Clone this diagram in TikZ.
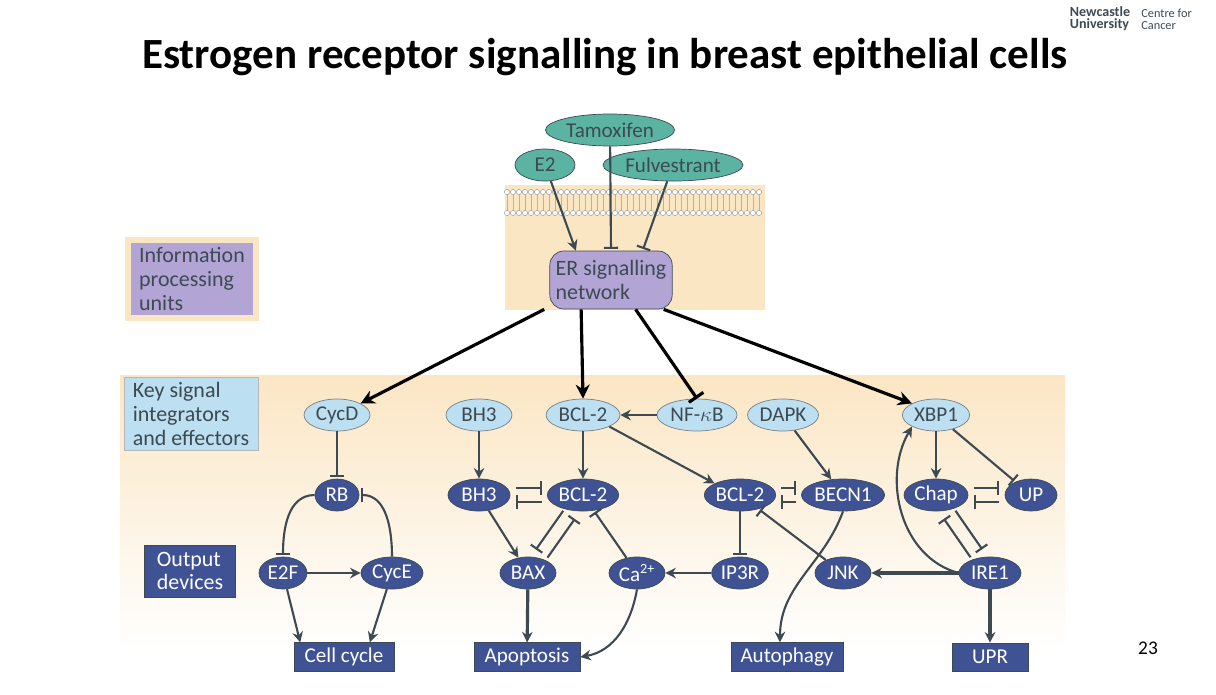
\documentclass[tikz,border=0pt]{standalone}
\usepackage{fontspec}
\setmainfont{Carlito}
\usepackage{tikz}
\usetikzlibrary{arrows.meta,positioning,shapes.geometric}
\definecolor{teal1}{HTML}{5BB3A2}
\definecolor{lav}{HTML}{B3A4D6}
\definecolor{sky}{HTML}{BCDFF1}
\definecolor{navy}{HTML}{3F5293}
\definecolor{beige}{HTML}{FBE6C4}
\definecolor{ink}{HTML}{3E4A52}
\tikzset{
  drug/.style={draw=ink, ellipse, fill=teal1, minimum width=60*0.02cm, minimum height=32*0.02cm, inner sep=1pt, font=\fontsize{12}{14}\selectfont, text=ink},
  integ/.style={draw=ink!70, ellipse, fill=sky, minimum width=66*0.02cm, minimum height=32*0.02cm, inner sep=1pt, font=\fontsize{12}{14}\selectfont, text=ink},
  eff/.style={draw=ink, ellipse, fill=navy, minimum width=62*0.02cm, minimum height=32*0.02cm, inner sep=0.5pt, font=\fontsize{12}{14}\selectfont, text=white},
  outbox/.style={draw=ink, fill=navy, text=white, minimum height=28*0.02cm, inner sep=3pt, font=\fontsize{12}{14}\selectfont},
  act/.style={draw=ink, line width=1.2pt, -{Stealth[length=6pt,width=6pt]}},
  inh/.style={draw=ink, line width=1.2pt, -{Bar[width=8pt]}, shorten >=1pt},
  pair/.style={inh, shorten <=3pt, shorten >=3pt},
  big/.style={draw=black, line width=1.8pt, -{Stealth[length=8pt,width=8pt]}},
  legend/.style={align=left, font=\fontsize{12.5}{13.5}\selectfont, inner sep=3pt, text=ink}
}
\begin{document}
\begin{tikzpicture}[x=0.02cm, y=-0.02cm]
\useasboundingbox (0,0) rectangle (1216,694);
\fill[white] (0,0) rectangle (1216,694);
% backgrounds
\shade[top color=beige, bottom color=white] (120,375) rectangle (1065,650);
\fill[beige] (505,185) rectangle (765,310);
\foreach \x in {507,513,...,763} {
  \draw[gray!60, line width=0.3pt] (\x,194) -- (\x,211);
  \draw[gray!70, fill=white, line width=0.3pt] (\x,192) circle (2.6);
  \draw[gray!70, fill=white, line width=0.3pt] (\x,213) circle (2.6);
}
% title and logo
\node (title) at (605,57) {\fontsize{24.5}{28}\selectfont\bfseries Estrogen receptor signalling in breast epithelial cells};
\node[font=\fontsize{8}{8}\selectfont\bfseries, text=ink, align=left, inner sep=0pt] (logo) at (1100,19) {Newcastle\\[-1pt]University};
\node[font=\fontsize{7}{7}\selectfont, text=ink, align=left, inner sep=0pt, right=6pt of logo] (centre) {Centre for\\Cancer};
\node (page) at (1148,648) {\fontsize{11}{12}\selectfont 23};
% legend
\node[legend, fill=lav, draw=beige, line width=3pt, minimum width=128*0.02cm, minimum height=78*0.02cm] (infobox) at (192,279) {Information\\processing\\units};
\node[legend, fill=sky, draw=ink!40, minimum width=134*0.02cm, minimum height=68*0.02cm] (keybox) at (191,414) {Key signal\\integrators\\and effectors};
\node[legend, fill=navy, text=white, draw=ink, minimum width=91*0.02cm, minimum height=52*0.02cm] (outdev) at (190,571) {Output\\devices};
% drugs and ER
\node[drug] (tam) at (610,130) {Tamoxifen};
\node[drug] (e2) at (545,165) {E2};
\node[drug] (fulv) at (673,165) {Fulvestrant};
\node[draw=ink, fill=lav, rounded corners=8pt, align=left, minimum width=122*0.02cm, minimum height=58*0.02cm, font=\fontsize{12.5}{14}\selectfont, text=ink] (er) at (611,280) {ER signalling\\network};
% integrators
\node[integ] (cycd) at (337,415) {CycD};
\node[integ] (bh3a) at (479,415) {BH3};
\node[integ] (bcla) at (583,415) {BCL-2};
\node[integ] (nfkb) at (697,415) {NF-$\kappa$B};
\node[integ] (dapk) at (783,415) {DAPK};
\node[integ] (xbp1) at (936,415) {XBP1};
% effectors
\node[eff, minimum width=44*0.02cm] (rb) at (337,495) {RB};
\node[eff] (bh3b) at (479,495) {BH3};
\node[eff] (bclb) at (583,495) {BCL-2};
\node[eff] (bclc) at (740,495) {BCL-2};
\node[eff, minimum width=70*0.02cm] (becn1) at (843,495) {BECN1};
\node[eff] (chap) at (936,495) {Chap};
\node[eff, minimum width=52*0.02cm] (up) at (1031,495) {UP};
\node[eff, minimum width=48*0.02cm] (e2f) at (283,573) {E2F};
\node[eff] (cyce) at (392,573) {CycE};
\node[eff, minimum width=56*0.02cm] (bax) at (528,573) {BAX};
\node[eff, minimum width=56*0.02cm] (ca) at (637,573) {Ca\textsuperscript{2+}};
\node[eff, minimum width=56*0.02cm] (ip3r) at (740,573) {IP3R};
\node[eff, minimum width=56*0.02cm] (jnk) at (843,573) {JNK};
\node[eff] (ire1) at (990,573) {IRE1};
% outputs
\node[outbox, minimum width=100*0.02cm] (cellcyc) at (344,657) {Cell cycle};
\node[outbox, minimum width=106*0.02cm] (apop) at (527,657) {Apoptosis};
\node[outbox, minimum width=112*0.02cm] (auto) at (787,657) {Autophagy};
\node[outbox, minimum width=76*0.02cm] (upr) at (990,657) {UPR};
% drug connectors
\draw[act] (e2) -- ([xshift=-20pt]er.north);
\draw[inh] (tam) -- ([xshift=0pt]er.north);
\draw[inh] (fulv) -- ([xshift=18pt]er.north);
% ER outputs
\draw[big] ([xshift=-38pt]er.south) -- (cycd.north east);
\draw[big] ([xshift=-17pt]er.south) -- (bcla.north);
\draw[big, -{Bar[width=10pt]}] ([xshift=14pt]er.south) -- (nfkb.north);
\draw[big] ([xshift=30pt]er.south) -- (xbp1.north west);
% cell cycle
\draw[inh] (cycd) -- (rb);
\draw[inh] (rb.west) to[out=180, in=90] (e2f.north);
\draw[inh] (cyce.north) to[out=90, in=0] (rb.east);
\draw[act] (e2f) -- (cyce);
\draw[act] (e2f) -- (cellcyc.north west -| e2f.south east);
\draw[act] (cyce) -- (cellcyc.north east -| cyce.south west);
% apoptosis
\draw[act] (bh3a) -- (bh3b);
\draw[act] (bcla) -- (bclb);
\draw[act] (nfkb) -- (bcla);
\draw[act] (bcla.south east) -- (bclc.north west);
\draw[pair] ([yshift=4pt]bh3b.east) -- ([yshift=4pt]bclb.west);
\draw[pair] ([yshift=-4pt]bclb.west) -- ([yshift=-4pt]bh3b.east);
\draw[act] (bh3b) -- (bax);
\draw[pair, transform canvas={shift={(3.3pt,-2.3pt)}}] (bax) -- (bclb);
\draw[pair, transform canvas={shift={(-3.3pt,2.3pt)}}] (bclb) -- (bax);
\draw[inh] (ca) -- (bclb);
\draw[act, line width=1.8pt] (bax) -- (apop);
\draw[act] (ca.south) to[out=-100, in=10] (apop.east);
\draw[act] (ip3r) -- (ca);
% autophagy
\draw[act] (dapk) -- (becn1);
\draw[pair] ([yshift=4pt]bclc.east) -- ([yshift=4pt]becn1.west);
\draw[pair] ([yshift=-4pt]becn1.west) -- ([yshift=-4pt]bclc.east);
\draw[inh] (bclc) -- (ip3r);
\draw[inh] (jnk) -- (bclc);
\draw[act] (becn1.south) to[out=-110, in=90] ([xshift=-4pt]auto.north);
% UPR
\draw[act] (xbp1) -- (chap);
\draw[inh] (xbp1) -- (up);
\draw[pair] ([yshift=4pt]chap.east) -- ([yshift=4pt]up.west);
\draw[pair] ([yshift=-4pt]up.west) -- ([yshift=-4pt]chap.east);
\draw[pair, transform canvas={shift={(-3.3pt,-2.3pt)}}] (ire1) -- (chap);
\draw[pair, transform canvas={shift={(3.3pt,2.3pt)}}] (chap) -- (ire1);
\draw[act] (ire1.west) to[out=165, in=-120] (xbp1.south west);
\draw[act, line width=1.8pt] (ire1) -- (jnk);
\draw[act, line width=1.8pt] (ire1) -- (upr);
\end{tikzpicture}
\end{document}
